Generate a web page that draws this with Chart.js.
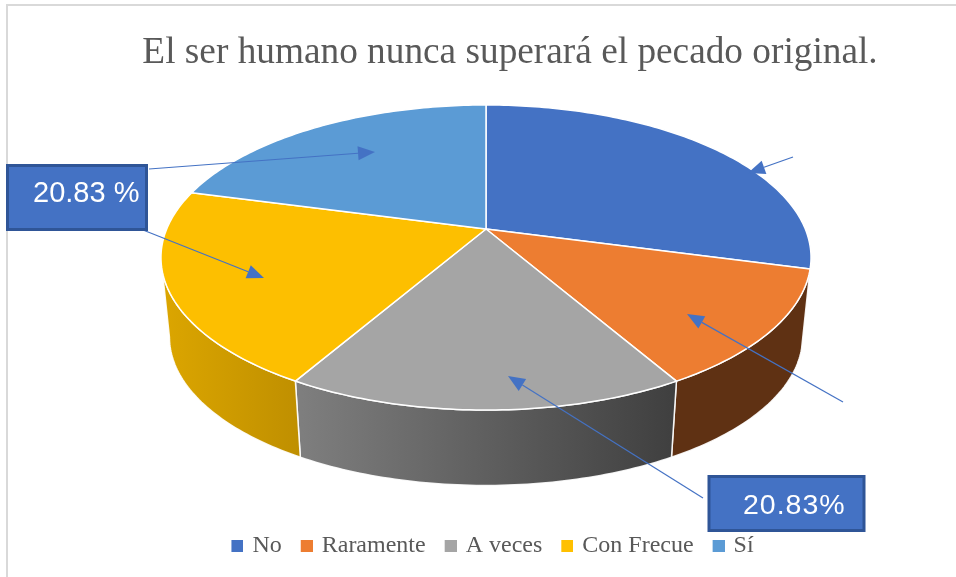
<!DOCTYPE html>
<html><head><meta charset="utf-8">
<style>html,body{margin:0;padding:0;background:#fff}canvas{display:block}</style>
<script src="https://cdn.jsdelivr.net/npm/chart.js@4/dist/chart.umd.min.js"></script>
</head><body><canvas id="c" width="956" height="577"></canvas>
<script>
const titleText = "El ser humano nunca superará el pecado original.";
const categories = ["No", "Raramente", "A veces", "Con Frecue", "Sí"];
const seriesValues = [29.17, 12.5, 16.67, 20.83, 20.83];
const topColors = ["#4472C4", "#ED7D31", "#A5A5A5", "#FDBF00", "#5B9BD5"];
const legendColors = ["#4472C4", "#ED7D31", "#A5A5A5", "#FFC000", "#5B9BD5"];
const wallLeft = ["#2F4F87", "#5F3113", "#7F7F7F", "#DCA600", "#3A6A96"];
const wallRight = ["#2F4F87", "#5F3113", "#3F3F3F", "#BF8F00", "#3A6A96"];

// Perspective of the tilted disc
const proj = {cx: 486, cy: 229, A: 319.3, B: 147.2, k: 0.187, vanishY: 3310, wallScale: 0.974};
const top3d = a => {
  const u = Math.cos(a), v = Math.sin(a), w = 1 - proj.k * v;
  return [proj.cx + proj.A * u / w, proj.cy + proj.B * v / w];
};
const low3d = a => {
  const [x, y] = top3d(a);
  return [proj.cx + (x - proj.cx) * proj.wallScale, proj.vanishY + (y - proj.vanishY) * proj.wallScale];
};
const steps = (a0, a1) => {
  const n = Math.max(2, Math.ceil((a1 - a0) * 60)), out = [];
  for (let i = 0; i <= n; i++) out.push(a0 + (a1 - a0) * i / n);
  return out;
};
const frontFrom = 0.265, frontTo = Math.PI - Math.asin(proj.k);

// Legend swatches: a 12px square sitting 3px right of the label's box start
const swatches = legendColors.map(col => {
  const s = document.createElement("canvas");
  s.width = 18; s.height = 12;
  const x = s.getContext("2d");
  x.fillStyle = col; x.fillRect(6, 0, 12, 12);
  return s;
});

// Callouts
const arrows = [
  [[793,157],[748,173]],
  [[843,402],[687,314]],
  [[703,498],[508,376]],
  [[143,230],[264,278]],
  [[149,169],[375,152]]
];
const boxes = [
  {x:7.5, y:165.5, w:139, h:64, text:"20.83 %", tx:33, ty:194, size:29, sp:0},
  {x:709, y:476.5, w:155, h:54, text:"20.83%", tx:743, ty:506, size:28.5, sp:1}
];

const pie3d = {
  id: "pie3d",
  beforeDraw(chart) {
    const c = chart.ctx;
    c.save();
    c.fillStyle = "#fff"; c.fillRect(0, 0, chart.width, chart.height);
    c.strokeStyle = "#D9D9D9"; c.lineWidth = 2;
    c.beginPath(); c.moveTo(chart.width, 5); c.lineTo(7, 5); c.lineTo(7, chart.height); c.stroke();
    c.restore();
  },
  afterLayout(chart) {
    chart.titleBlock.left += 32; chart.titleBlock.right += 32;
    chart.titleBlock.top += 5; chart.titleBlock.bottom += 5;
    chart.legend.left += 13; chart.legend.right += 13;
    chart.legend.top -= 6; chart.legend.bottom -= 6;
  },
  beforeDatasetDraw(chart, args) {
    const c = chart.ctx, arcs = args.meta.data;
    c.save();
    c.lineJoin = "round";
    arcs.forEach((arc, i) => {
      const p = arc.getProps(["startAngle", "endAngle"], true);
      const a0 = Math.max(p.startAngle, frontFrom), a1 = Math.min(p.endAngle, frontTo);
      if (a1 <= a0) return;
      const as = steps(a0, a1);
      const pts = as.map(top3d), low = as.map(low3d);
      const xs = pts.concat(low).map(q => q[0]);
      const g = c.createLinearGradient(Math.min(...xs), 0, Math.max(...xs), 0);
      g.addColorStop(0, wallLeft[i]); g.addColorStop(1, wallRight[i]);
      c.beginPath();
      pts.forEach((q, j) => j ? c.lineTo(q[0], q[1]) : c.moveTo(q[0], q[1]));
      low.slice().reverse().forEach(q => c.lineTo(q[0], q[1]));
      c.closePath();
      c.fillStyle = g; c.fill();
      c.strokeStyle = "rgba(255,255,255,0.9)"; c.lineWidth = 1.5; c.stroke();
    });
    arcs.forEach((arc, i) => {
      const p = arc.getProps(["startAngle", "endAngle"], true);
      c.beginPath();
      c.moveTo(proj.cx, proj.cy);
      steps(p.startAngle, p.endAngle).map(top3d).forEach(q => c.lineTo(q[0], q[1]));
      c.closePath();
      c.fillStyle = topColors[i]; c.fill();
      c.strokeStyle = "#fff"; c.lineWidth = 1.5; c.stroke();
    });
    c.restore();
    return false;
  },
  afterDatasetsDraw(chart) {
    const c = chart.ctx;
    c.save();
    arrows.forEach(([s, t]) => {
      const ang = Math.atan2(t[1] - s[1], t[0] - s[0]), L = 17, W = 7;
      const bx = t[0] - L * Math.cos(ang), by = t[1] - L * Math.sin(ang);
      c.strokeStyle = "#4472C4"; c.lineWidth = 1.2;
      c.beginPath(); c.moveTo(s[0], s[1]); c.lineTo(bx, by); c.stroke();
      c.fillStyle = "#4472C4";
      c.beginPath(); c.moveTo(t[0], t[1]);
      c.lineTo(bx - W * Math.sin(ang), by + W * Math.cos(ang));
      c.lineTo(bx + W * Math.sin(ang), by - W * Math.cos(ang));
      c.closePath(); c.fill();
    });
    boxes.forEach(b => {
      c.fillStyle = "#4472C4"; c.fillRect(b.x, b.y, b.w, b.h);
      c.strokeStyle = "#2F5597"; c.lineWidth = 3; c.strokeRect(b.x, b.y, b.w, b.h);
      c.fillStyle = "#fff"; c.font = b.size + 'px "Liberation Sans"';
      c.textAlign = "left"; c.textBaseline = "middle";
      c.letterSpacing = b.sp + "px";
      c.fillText(b.text, b.tx, b.ty);
    });
    c.restore();
  }
};

new Chart(document.getElementById("c"), {
  type: "pie",
  data: {labels: categories, datasets: [{data: seriesValues, backgroundColor: topColors, borderColor: "#fff", borderWidth: 1.5}]},
  options: {
    responsive: false, animation: false,
    layout: {padding: {top: 26, bottom: 3, left: 0, right: 0}},
    plugins: {
      tooltip: {enabled: false},
      title: {display: true, text: titleText, color: "#595959",
        font: {family: '"Liberation Serif"', size: 37.3, weight: "normal"}, padding: {top: 0, bottom: 10}},
      legend: {position: "bottom",
        labels: {color: "#595959", boxWidth: 12, boxHeight: 12, padding: 16, usePointStyle: true,
          font: {family: '"Liberation Serif"', size: 24},
          generateLabels(chart) {
            return Chart.overrides.doughnut.plugins.legend.labels.generateLabels(chart)
              .map((item, i) => ({...item, pointStyle: swatches[i]}));
          }}}
    }
  },
  plugins: [pie3d]
});
</script></body></html>
